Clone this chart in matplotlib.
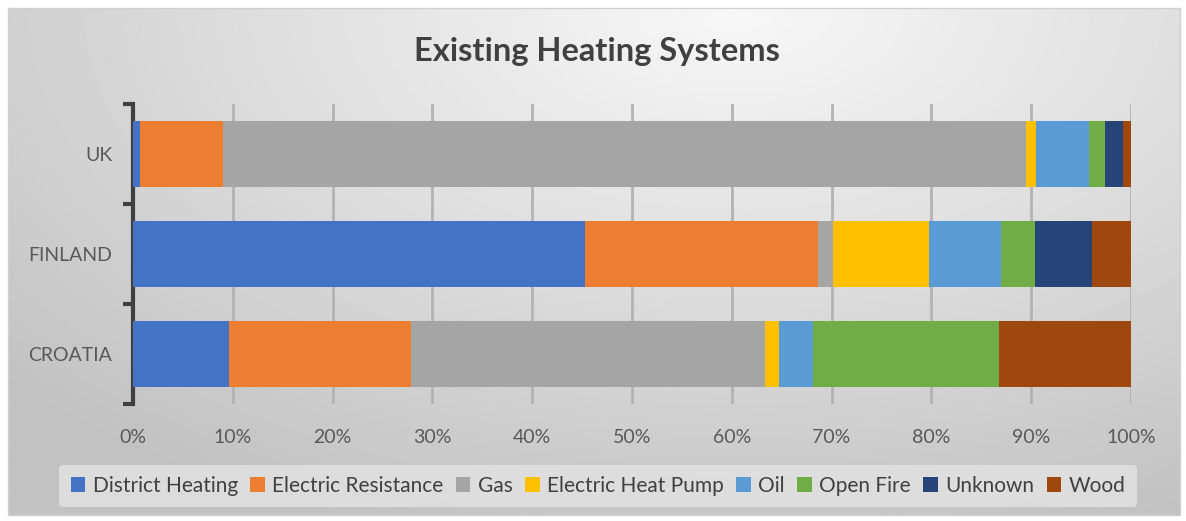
import numpy as np
import matplotlib.pyplot as plt
from matplotlib.patches import Rectangle

plt.rcParams['font.family'] = ['Lato', 'DejaVu Sans']

countries = ['CROATIA', 'FINLAND', 'UK']
systems = ['District Heating', 'Electric Resistance', 'Gas', 'Electric Heat Pump',
           'Oil', 'Open Fire', 'Unknown', 'Wood']
colors = ['#4472c4', '#ed7d31', '#a5a5a5', '#ffc000',
          '#5b9bd5', '#70ad47', '#264478', '#9e480e']

# shares in % per country, order: CROATIA, FINLAND, UK
district = [9.6, 45.3, 0.7]
electric_res = [18.3, 23.3, 8.3]
gas = [35.4, 1.5, 80.5]
heat_pump = [1.4, 9.7, 1.0]
oil = [3.4, 7.2, 5.3]
open_fire = [18.7, 3.4, 1.6]
unknown = [0.0, 5.7, 1.8]
wood = [13.2, 3.9, 0.8]
values = [district, electric_res, gas, heat_pump, oil, open_fire, unknown, wood]

W, H = 1186, 521
fig = plt.figure(figsize=(W / 100, H / 100), dpi=100)
fig.patch.set_facecolor('white')

# gradient background of the chart area
bg = fig.add_axes([0, 0, 1, 1], zorder=-10)
yy, xx = np.mgrid[0:1:300j, 0:1:600j]
r = np.sqrt(((xx - 0.62) * 1.3) ** 2 + ((yy - 0.0) * 1.0) ** 2)
img = 0.97 - 0.21 * np.clip(r / 1.1, 0, 1)
bg.imshow(img, cmap='gray', vmin=0, vmax=1, extent=[8, 1180, 515, 8],
          aspect='auto', interpolation='bilinear')
bg.add_patch(Rectangle((8, 8), 1172, 507, fill=False, edgecolor='#d0d0d0', lw=1))
bg.set_xlim(0, W)
bg.set_ylim(H, 0)
bg.axis('off')

ax = fig.add_axes([133 / W, 1 - 404 / H, (1131 - 133) / W, 300 / H])
ax.patch.set_alpha(0)

y = np.arange(len(countries))
left = np.zeros(len(countries))
for name, vals, c in zip(systems, values, colors):
    vals = np.array(vals)
    ax.barh(y, vals, left=left, height=0.66, color=c, label=name, zorder=3)
    left += vals

ax.set_xlim(0, 100)
ax.set_ylim(-0.5, 2.5)
ax.set_xticks(np.arange(0, 101, 10))
ax.set_xticklabels([f'{v}%' for v in range(0, 101, 10)])
ax.set_yticks(y)
ax.set_yticklabels(countries)
ax.set_yticks([-0.5, 0.5, 1.5, 2.5], minor=True)
ax.grid(axis='x', color='#b3b3b3', lw=2, zorder=1)
ax.tick_params(axis='x', length=0, pad=18, labelsize=14, labelcolor='#595959')
ax.tick_params(axis='y', which='major', length=0, pad=15, labelsize=14, labelcolor='#595959')
ax.tick_params(axis='y', which='minor', length=7, width=3, color='#404040')
for s in ['top', 'right', 'bottom']:
    ax.spines[s].set_visible(False)
ax.spines['left'].set_linewidth(3)
ax.spines['left'].set_color('#404040')

fig.text(597 / W, 1 - 52 / H, 'Existing Heating Systems', ha='center', va='center',
         fontsize=23.5, fontweight='bold', color='#404040')

leg = fig.legend(loc='center', bbox_to_anchor=(598 / W, 1 - 486 / H), ncol=8,
                 frameon=True, fontsize=15, handlelength=0.7, handleheight=0.7,
                 handletextpad=0.35, columnspacing=0.6, borderpad=0.55)
leg.get_frame().set_facecolor('#e3e3e3')
leg.get_frame().set_edgecolor('none')
leg.get_frame().set_alpha(0.8)
for t in leg.get_texts():
    t.set_color('#404040')

fig.savefig('out.png', dpi=100)
